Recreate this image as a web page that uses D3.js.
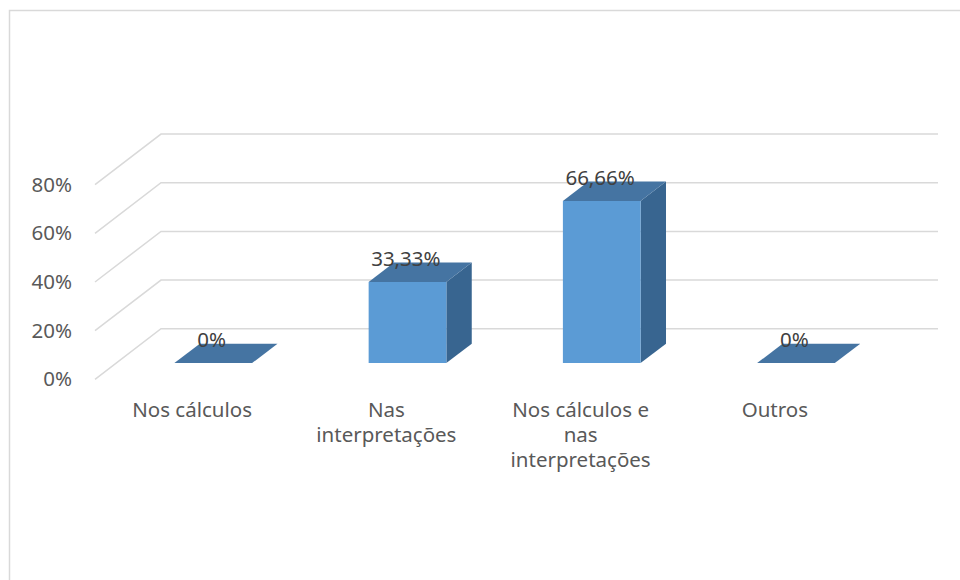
<!DOCTYPE html>
<html>
<head>
<meta charset="utf-8">
<script src="https://cdn.jsdelivr.net/npm/d3@7"></script>
<style>
  html, body { margin: 0; padding: 0; background: #fff; }
  svg { display: block; font-family: "Noto Sans", "Open Sans", sans-serif; }
</style>
</head>
<body>
<svg id="chart" width="960" height="580"></svg>
<script>
const categories = ["Nos cálculos", "Nas interpretações", "Nos cálculos e nas interpretações", "Outros"];
const values = [0, 0.3333, 0.6666, 0];
const valueLabels = ["0%", "33,33%", "66,66%", "0%"];
const yTicks = [0, 0.2, 0.4, 0.6, 0.8];

const svg = d3.select("#chart");

// frame
svg.append("rect").attr("x", 9.5).attr("y", 10.5).attr("width", 980).attr("height", 600)
  .attr("fill", "none").attr("stroke", "#d9d9d9").attr("stroke-width", 1.5);

// 3D geometry
const front0 = { x: 95, y: 379.3 };     // front plane origin (value 0)
const depth = { dx: 66, dy: -50.6 };    // full floor depth offset
const plotW = 777;
const barZ0 = 0.32, barZ1 = 0.705;

const x = d3.scaleBand().domain(categories).range([0, plotW]).paddingInner(0.6).paddingOuter(0.3);
const y = d3.scaleLinear().domain([0, 0.8]).range([0, 194.6]);

function P(px, v, z) {
  return [front0.x + px + depth.dx * z, front0.y - y(v) + depth.dy * z];
}

// gridlines (left wall diagonal + back wall horizontal)
const grid = svg.append("g");
yTicks.forEach(t => {
  const a = P(0, t, 0), b = P(0, t, 1), c = P(plotW, t, 1);
  grid.append("path")
    .attr("d", `M${a[0]},${a[1]}L${b[0]},${b[1]}L${c[0]},${c[1]}`)
    .attr("fill", "none").attr("stroke", "#d9d9d9").attr("stroke-width", 1.5);
});

// y tick labels
svg.append("g").selectAll("text").data(yTicks).join("text")
  .attr("x", 72).attr("y", d => P(0, d, 0)[1] + 1.5)
  .attr("text-anchor", "end").attr("dominant-baseline", "middle")
  .attr("font-size", 20.5).attr("fill", "#595959")
  .text(d => d3.format(".0%")(d));

// bars
const bars = svg.append("g");
categories.forEach((c, i) => {
  const v = values[i];
  const x0 = x(c), x1 = x(c) + x.bandwidth();
  const poly = pts => pts.map(p => p.join(",")).join(" ");
  const g = bars.append("g");
  if (v > 0) {
    // side face
    g.append("polygon").attr("points", poly([P(x1, 0, barZ0), P(x1, 0, barZ1), P(x1, v, barZ1), P(x1, v, barZ0)]))
      .attr("fill", "#386590");
    // front face
    g.append("polygon").attr("points", poly([P(x0, 0, barZ0), P(x1, 0, barZ0), P(x1, v, barZ0), P(x0, v, barZ0)]))
      .attr("fill", "#5b9bd5");
  }
  // top face
  g.append("polygon").attr("points", poly([P(x0, v, barZ0), P(x1, v, barZ0), P(x1, v, barZ1), P(x0, v, barZ1)]))
    .attr("fill", "#4574a2");
  // data label
  const lp = P(x0 + x.bandwidth() / 2, v, barZ1);
  g.append("text")
    .attr("x", lp[0] - 27).attr("y", lp[1] + 3.5)
    .attr("text-anchor", "middle").attr("font-size", 20.5).attr("fill", "#404040")
    .text(valueLabels[i]);
});

// category labels (wrapped)
const maxW = 150;
const labG = svg.append("g");
categories.forEach(c => {
  const cx = front0.x + x(c) + x.bandwidth() / 2;
  const t = labG.append("text").attr("x", cx).attr("y", 417)
    .attr("text-anchor", "middle").attr("font-size", 20.5).attr("fill", "#595959");
  const words = c.split(" ");
  let line = [], lineNo = 0;
  let ts = t.append("tspan").attr("x", cx).attr("y", 417);
  words.forEach(w => {
    line.push(w);
    ts.text(line.join(" "));
    if (ts.node().getComputedTextLength() > maxW && line.length > 1) {
      line.pop();
      ts.text(line.join(" "));
      line = [w];
      lineNo++;
      ts = t.append("tspan").attr("x", cx).attr("y", 417 + lineNo * 24.8).text(w);
    }
  });
});
</script>
</body>
</html>
